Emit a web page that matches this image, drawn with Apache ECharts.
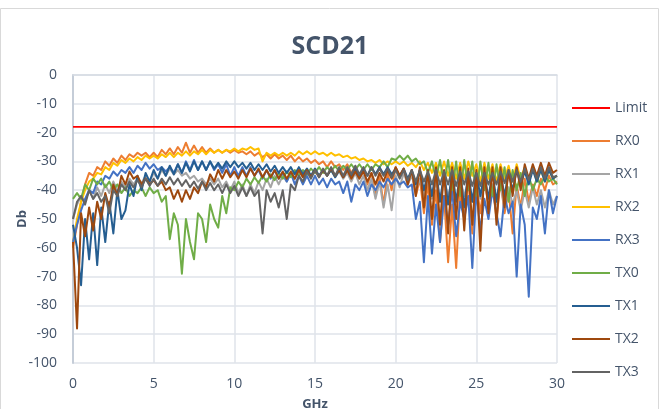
<!DOCTYPE html>
<html>
<head>
<meta charset="utf-8">
<script src="https://cdn.jsdelivr.net/npm/echarts@6/dist/echarts.min.js"></script>
<style>
html,body{margin:0;padding:0;background:#fff;}
#chart{width:660px;height:409px;}
</style>
</head>
<body>
<div id="chart"></div>
<script>
// Frequency sweep grid (GHz), 0.25 GHz step from 0 to 30
const FREQ_START = 0, FREQ_STEP = 0.25, FREQ_COUNT = 121;
const freqs = Array.from({length: FREQ_COUNT}, (_, i) => FREQ_START + i * FREQ_STEP);

const seriesNames = ['Limit','RX0','RX1','RX2','RX3','TX0','TX1','TX2','TX3'];
const seriesColors = ['#FF0000','#ED7D31','#A5A5A5','#FFC000','#4472C4','#70AD47','#255E91','#9E480E','#636363'];

const limitFreqs = [0, 30];
const limitValues = [-18, -18];

const rx0 = [
 -60,-52,-44,-38,-34,-35,-32,-33,-30,-31.5,-29,-30.5,-28,-29.5,-27.5,-28.5,-27,-28,-27,-28.5,
 -27,-28.5,-26,-27.5,-25.5,-27.5,-25,-27,-23.5,-27,-24.5,-27,-25,-27,-25.5,-27,-26,-27,-26,-27,
 -26,-27,-26.5,-27.5,-26.5,-28,-27,-28.5,-27.5,-29,-27.5,-29,-28,-29.5,-28,-30,-28.5,-30,-29,-30.5,
 -29.5,-31,-30,-32,-30,-32,-31,-33,-31,-34,-32,-35,-33,-38,-34,-42,-35,-45,-34,-40,
 -32,-35,-33,-38,-34,-42,-36,-48,-38,-52,-40,-58,-42,-65,-45,-67,-40,-50,-36,-55,
 -38,-48,-36,-45,-38,-50,-37,-48,-40,-55,-38,-46,-36,-44,-38,-42,-36,-40,-35,-38,
 -37
];
const rx1 = [
 -50,-45,-42,-44,-40,-43,-39,-42,-38,-41,-37,-40,-37,-39,-36,-38,-36,-37.5,-35,-37,
 -34,-36,-33,-35,-32.5,-34.5,-33,-35,-34,-36,-35,-37,-36,-38,-36,-38,-36,-39,-37,-40,
 -37,-41,-38,-42,-38,-41,-37,-40,-36,-39,-35,-38,-35,-37,-34,-36,-33.5,-35.5,-33,-35,
 -33,-35,-33,-35,-33,-35.5,-33.5,-36,-34,-37,-34,-38,-35,-40,-36,-43,-37,-46,-38,-47,
 -35,-39,-34,-38,-35,-40,-36,-42,-36,-43,-37,-44,-36,-42,-37,-45,-36,-42,-37,-44,
 -36,-43,-37,-44,-38,-45,-38,-46,-39,-45,-40,-47,-40,-46,-39,-45,-40,-46,-40,-45,
 -42
];
const rx2 = [
 -58,-50,-44,-40,-37,-36,-34,-34.5,-32,-33,-30.5,-31.5,-29.5,-30.5,-29,-30,-28.5,-29.5,-28,-29,
 -28,-29,-27.5,-28.5,-27,-28.5,-27,-28,-26.5,-28,-26.5,-27.5,-26,-27.5,-26,-27,-26,-27,-26,-26.5,
 -25.5,-26.5,-25.5,-26,-25,-26,-25.5,-30,-27,-28,-27,-28,-27,-28,-27,-28,-26.5,-27.5,-26.5,-27.5,
 -26.5,-27.5,-27,-28,-27,-28,-27.5,-28.5,-28,-29,-28.5,-29.5,-29,-30,-29.5,-30.5,-29.5,-31,-30,-31,
 -30,-31,-30,-31.5,-30.5,-32,-30,-33,-30.5,-34,-30.5,-35,-30,-35,-30.5,-36,-30.5,-36,-30,-35,
 -31,-37,-30.5,-36,-31,-37,-31,-36,-31.5,-37,-31,-36,-32,-37,-32,-37,-33,-37,-33,-36,
 -35
];
const rx3 = [
 -58,-52,-47,-43,-40,-41,-37,-38,-35,-36,-33.5,-35,-33,-34,-32,-34,-31.5,-33,-30.5,-32.5,
 -31,-33,-32,-33.5,-32,-34,-31,-34,-30,-33,-29.5,-33,-30,-33,-30,-33,-31,-34,-31,-35,
 -32,-35,-32,-35,-32,-35,-33,-36,-33,-36,-33,-36,-34,-37,-34,-38,-35,-38,-35,-38,
 -35,-38,-36,-39,-36,-38,-37,-41,-37,-44,-38,-40,-37,-42,-38,-40,-37,-39,-36,-38,
 -36,-38,-37,-39,-38,-50,-44,-65,-42,-62,-45,-58,-42,-52,-40,-56,-44,-50,-42,-67,
 -40,-54,-43,-50,-40,-48,-56,-42,-48,-44,-70,-45,-52,-77,-46,-50,-42,-55,-40,-48,
 -42
];
const tx0 = [
 -43,-41,-43,-38,-40,-36,-38,-36,-39,-37,-40,-38,-41,-39,-42,-40,-41,-39,-42,-39,
 -41,-40,-44,-42,-57,-48,-52,-69,-50,-58,-64,-48,-50,-58,-45,-50,-53,-42,-48,-39,
 -40,-37,-39,-36,-38,-35.5,-37.5,-35,-37,-34.5,-36.5,-34,-36,-33.5,-35.5,-33,-35,-33,-34.5,-32.5,
 -34,-32,-34,-32,-33.5,-31.5,-33.5,-31.5,-33,-31,-33,-31,-33,-31,-33,-31,-32,-30,-32,-29,
 -29.5,-28,-29.5,-28,-30,-29,-31,-30,-34,-30,-36,-29.5,-38,-29.5,-40,-30,-42,-29.5,-40,-30,
 -42,-30,-40,-30.5,-42,-31,-40,-32,-44,-33,-40,-34,-42,-35,-40,-36,-38,-35,-37,-36,
 -38
];
const tx1 = [
 -52,-60,-73,-50,-64,-48,-66,-46,-58,-44,-55,-40,-50,-47,-38,-42,-35,-40,-34,-37,
 -33,-36,-32,-35,-31.5,-34.5,-31,-34,-30.5,-33.5,-30,-33,-30,-33,-30,-32.5,-30.5,-32.5,-30,-32,
 -30,-32,-30.5,-32.5,-30.5,-33,-31,-33,-31,-33.5,-31.5,-34,-32,-34,-32,-34.5,-32,-34.5,-32.5,-35,
 -32.5,-35,-33,-35,-33,-35.5,-33,-35.5,-33,-35,-32.5,-35,-32.5,-35,-32,-34.5,-32,-34.5,-32,-34.5,
 -32.5,-35,-32.5,-36,-33,-38,-33,-40,-34,-42,-33,-44,-34,-45,-33,-44,-34,-46,-33.5,-44,
 -34,-42,-34,-43,-33.5,-44,-34,-42,-34,-40,-33,-38,-33.5,-38,-33,-37,-33,-37,-33,-36,
 -35
];
const tx2 = [
 -58,-88,-48,-56,-46,-54,-44,-50,-41,-46,-38,-42,-35,-38,-33.5,-36,-35,-38,-36,-38,
 -36.5,-38.5,-37,-40,-39,-43,-40,-44,-40,-43,-39,-41,-37,-39,-34.5,-37,-33,-36,-33,-35.5,
 -33.5,-36,-33,-35.5,-32.5,-35,-32.5,-35.5,-33,-35.5,-33,-36,-33.5,-36,-33.5,-36,-33,-35.5,-33,-35.5,
 -33,-35.5,-33,-35,-32.5,-35,-33,-35.5,-33,-36,-33.5,-36,-33.5,-37,-34,-38,-34,-37,-33,-36,
 -32,-35,-32.5,-38,-33,-42,-32,-46,-33,-50,-32,-52,-33,-55,-32,-50,-32,-54,-32.5,-52,
 -33,-61,-32,-48,-32,-52,-32,-46,-33,-42,-32,-40,-31,-36,-31,-35,-30.5,-35,-30.5,-34,
 -33
];
const tx3 = [
 -50,-44,-42,-45,-40,-43,-41,-44,-42,-48,-40,-42,-38,-40,-37,-39,-36.5,-39,-36,-38.5,
 -36,-38.5,-36,-38,-35.5,-38,-36,-38.5,-36.5,-39,-37,-39.5,-37,-40,-37.5,-40,-38,-41,-38,-41,
 -38.5,-42,-39,-42,-39,-42,-40,-55,-40,-44,-41,-46,-40,-50,-38,-40,-35,-37,-33.5,-36,
 -33,-35.5,-32.5,-35,-32,-35,-32,-35,-32,-34.5,-31.5,-34.5,-32,-35,-32,-35,-32.5,-35,-32.5,-35.5,
 -33,-36,-33,-36.5,-33,-37,-33,-37,-33.5,-38,-33,-38,-33.5,-38,-33,-38.5,-33.5,-38,-33.5,-38.5,
 -34,-38.5,-34,-38,-34,-38,-33.5,-37.5,-33,-37,-33,-37,-32.5,-36.5,-32.5,-36,-32,-36,-32,-35.5,
 -35
];

const yTicks = { min: -100, max: 0, interval: 10 };
const xTicks = { min: 0, max: 30, interval: 5 };

const dataSets = [rx0, rx1, rx2, rx3, tx0, tx1, tx2, tx3];

const textColor = '#44546A';
const fontFam = '"Open Sans", "Liberation Sans", sans-serif';

const series = [];
series.push({
  name: seriesNames[0], type: 'line', symbol: 'none', showSymbol: false,
  data: limitFreqs.map((f, i) => [f, limitValues[i]]),
  lineStyle: { color: seriesColors[0], width: 1.6 },
  itemStyle: { color: seriesColors[0] },
  animation: false
});
dataSets.forEach((vals, k) => {
  series.push({
    name: seriesNames[k + 1], type: 'line', symbol: 'none', showSymbol: false,
    data: freqs.map((f, i) => [f, vals[i]]),
    lineStyle: { color: seriesColors[k + 1], width: 2, join: 'round' },
    itemStyle: { color: seriesColors[k + 1] },
    animation: false
  });
});

const chart = echarts.init(document.getElementById('chart'), null, { renderer: 'canvas' });
chart.setOption({
  backgroundColor: '#ffffff',
  animation: false,
  title: {
    text: 'SCD21', left: 'center', top: 29,
    textStyle: { fontFamily: fontFam, fontWeight: 'bold', fontSize: 25, color: textColor }
  },
  graphic: [{
    type: 'rect', shape: { x: 0.5, y: 8.5, width: 658, height: 402 },
    style: { fill: 'none', stroke: '#d9d9d9', lineWidth: 1 }, silent: true, z: -1
  }],
  legend: {
    orient: 'vertical', left: 567, top: 95,
    itemWidth: 38, itemHeight: 2, itemGap: 17, icon: 'rect',
    textStyle: { fontFamily: fontFam, fontSize: 14, color: textColor, lineHeight: 16 },
    data: seriesNames
  },
  grid: { left: 73, right: 103, top: 75, bottom: 46, containLabel: false, outerBoundsMode: 'none' },
  xAxis: {
    type: 'value', min: xTicks.min, max: xTicks.max, interval: xTicks.interval,
    name: 'GHz', nameLocation: 'middle', nameGap: 35, nameMoveOverlap: false,
    nameTextStyle: { fontFamily: fontFam, fontWeight: 'bold', fontSize: 13, color: textColor },
    axisLine: { show: true, lineStyle: { color: '#d6dbe3', width: 1.5 } },
    axisTick: { show: false },
    axisLabel: { fontFamily: fontFam, fontSize: 14, color: textColor, margin: 14 },
    splitLine: { show: true, lineStyle: { color: '#dfe3ea', width: 1.5 } }
  },
  yAxis: {
    type: 'value', min: yTicks.min, max: yTicks.max, interval: yTicks.interval,
    name: 'Db', nameLocation: 'middle', nameGap: 44, nameRotate: 90, nameMoveOverlap: false,
    nameTextStyle: { fontFamily: fontFam, fontWeight: 'bold', fontSize: 13, color: textColor },
    axisLine: { show: true, lineStyle: { color: '#c5cdd8', width: 2 } },
    axisTick: { show: false },
    axisLabel: { fontFamily: fontFam, fontSize: 14, color: textColor, margin: 16 },
    splitLine: { show: true, lineStyle: { color: '#dfe3ea', width: 1.5 } }
  },
  series: series
});
</script>
</body>
</html>
